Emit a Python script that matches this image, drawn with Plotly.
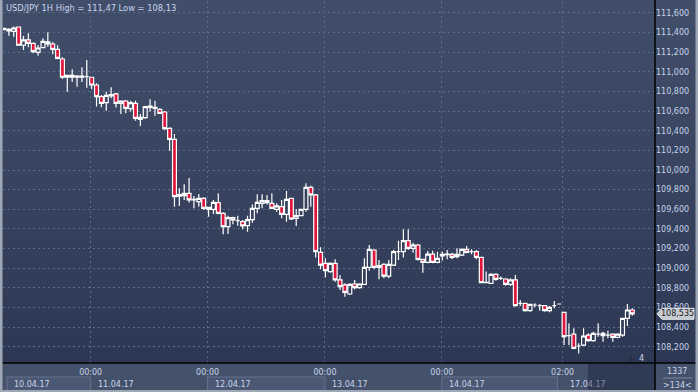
import plotly.graph_objects as go

# ---------------- data ----------------
opens = [111.430, 111.433, 111.413, 111.457, 111.271, 111.325, 111.291, 111.199, 111.247, 111.284,
         111.284, 111.230, 111.131, 110.945, 110.965, 110.945, 110.945, 110.951, 110.945, 110.866,
         110.747, 110.686, 110.754, 110.775, 110.680, 110.703, 110.625, 110.680, 110.517, 110.534,
         110.639, 110.629, 110.618, 110.591, 110.425, 110.313, 109.735, 109.739, 109.763, 109.695,
         109.678, 109.712, 109.620, 109.600, 109.668, 109.559, 109.423, 109.515, 109.484, 109.474,
         109.433, 109.494, 109.610, 109.661, 109.688, 109.661, 109.600, 109.627, 109.549, 109.712,
         109.508, 109.535, 109.600, 109.824, 109.746, 109.161, 109.049, 108.965, 109.049, 108.880,
         108.829, 108.737, 108.839, 108.802, 108.835, 109.009, 109.185, 109.009, 109.039, 108.920,
         109.032, 109.168, 109.168, 109.280, 109.202, 109.236, 109.090, 109.060, 109.144, 109.060,
         109.124, 109.138, 109.141, 109.117, 109.134, 109.192, 109.168, 109.168, 109.110, 108.852,
         108.846, 108.937, 108.897, 108.890, 108.835, 108.880, 108.642, 108.642, 108.567, 108.625,
         108.618, 108.618, 108.567, 108.618, 108.635, 108.550, 108.312, 108.329, 108.207, 108.217,
         108.319, 108.261, 108.329, 108.336, 108.319, 108.329, 108.295, 108.319, 108.489, 108.574]
highs = [111.446, 111.444, 111.461, 111.461, 111.366, 111.393, 111.298, 111.274, 111.342, 111.403,
         111.305, 111.271, 111.148, 110.968, 111.026, 110.968, 111.046, 111.121, 110.951, 110.883,
         110.765, 110.798, 110.843, 110.788, 110.706, 110.714, 110.707, 110.707, 110.571, 110.652,
         110.720, 110.707, 110.629, 110.601, 110.435, 110.367, 109.814, 109.854, 109.919, 109.735,
         109.756, 109.722, 109.627, 109.695, 109.763, 109.569, 109.535, 109.525, 109.535, 109.491,
         109.535, 109.650, 109.752, 109.752, 109.746, 109.763, 109.661, 109.695, 109.786, 109.718,
         109.603, 109.603, 109.865, 109.841, 109.756, 109.212, 109.100, 109.060, 109.090, 108.931,
         108.846, 108.846, 108.880, 108.846, 109.100, 109.236, 109.192, 109.083, 109.049, 109.083,
         109.185, 109.280, 109.396, 109.396, 109.260, 109.246, 109.090, 109.175, 109.178, 109.168,
         109.168, 109.185, 109.158, 109.202, 109.202, 109.226, 109.192, 109.185, 109.117, 108.965,
         108.948, 108.948, 108.914, 108.897, 108.897, 108.931, 108.676, 108.649, 108.632, 108.642,
         108.635, 108.625, 108.615, 108.666, 108.635, 108.550, 108.438, 108.387, 108.234, 108.387,
         108.336, 108.353, 108.438, 108.353, 108.363, 108.336, 108.336, 108.489, 108.635, 108.591]
lows = [111.428, 111.369, 111.359, 111.267, 111.223, 111.250, 111.189, 111.165, 111.240, 111.257,
        111.179, 111.128, 110.928, 110.798, 110.897, 110.849, 110.897, 110.839, 110.822, 110.646,
        110.639, 110.605, 110.731, 110.636, 110.571, 110.578, 110.595, 110.503, 110.449, 110.523,
        110.595, 110.554, 110.571, 110.408, 110.197, 109.627, 109.634, 109.695, 109.668, 109.610,
        109.627, 109.593, 109.525, 109.552, 109.549, 109.345, 109.348, 109.447, 109.433, 109.396,
        109.372, 109.464, 109.559, 109.610, 109.650, 109.603, 109.576, 109.508, 109.474, 109.491,
        109.430, 109.532, 109.576, 109.627, 109.110, 108.988, 108.907, 108.954, 108.863, 108.778,
        108.710, 108.727, 108.784, 108.791, 108.829, 108.975, 108.988, 108.886, 108.897, 108.897,
        109.022, 109.083, 109.110, 109.185, 109.158, 109.077, 108.954, 109.049, 109.049, 109.049,
        109.077, 109.090, 109.090, 109.100, 109.124, 109.151, 109.141, 109.090, 108.846, 108.846,
        108.839, 108.873, 108.880, 108.822, 108.818, 108.608, 108.615, 108.557, 108.557, 108.601,
        108.567, 108.557, 108.550, 108.591, 108.635, 108.217, 108.217, 108.173, 108.130, 108.207,
        108.251, 108.251, 108.302, 108.251, 108.285, 108.251, 108.285, 108.302, 108.411, 108.516]
closes = [111.444, 111.417, 111.447, 111.271, 111.325, 111.291, 111.206, 111.243, 111.311, 111.305,
          111.230, 111.138, 110.945, 110.965, 110.945, 110.958, 110.958, 110.951, 110.866, 110.747,
          110.680, 110.761, 110.768, 110.680, 110.703, 110.629, 110.686, 110.527, 110.537, 110.646,
          110.652, 110.639, 110.578, 110.421, 110.313, 109.729, 109.749, 109.763, 109.695, 109.702,
          109.712, 109.610, 109.600, 109.671, 109.559, 109.423, 109.515, 109.491, 109.484, 109.430,
          109.494, 109.610, 109.671, 109.688, 109.667, 109.610, 109.634, 109.549, 109.701, 109.501,
          109.535, 109.600, 109.824, 109.746, 109.168, 109.032, 108.975, 109.049, 108.880, 108.812,
          108.754, 108.835, 108.802, 108.839, 109.009, 109.192, 109.009, 109.026, 108.920, 109.039,
          109.168, 109.168, 109.280, 109.202, 109.236, 109.090, 109.060, 109.144, 109.060, 109.100,
          109.141, 109.144, 109.110, 109.141, 109.192, 109.161, 109.168, 109.110, 108.852, 108.855,
          108.937, 108.886, 108.897, 108.835, 108.880, 108.618, 108.642, 108.567, 108.632, 108.625,
          108.618, 108.567, 108.601, 108.618, 108.635, 108.302, 108.312, 108.183, 108.207, 108.309,
          108.261, 108.336, 108.329, 108.312, 108.319, 108.295, 108.329, 108.489, 108.574, 108.535]

title_text = "USD/JPY 1H High = 111,47 Low = 108,13"
last_price = 108.535
last_price_text = "108,535"

y_tick_vals = [108.2, 108.4, 108.6, 108.8, 109.0, 109.2, 109.4, 109.6, 109.8,
               110.0, 110.2, 110.4, 110.6, 110.8, 111.0, 111.2, 111.4, 111.6]
y_tick_text = ["108,200", "108,400", "108,600", "108,800", "109,000", "109,200", "109,400",
               "109,600", "109,800", "110,000", "110,200", "110,400", "110,600", "110,800",
               "111,000", "111,200", "111,400", "111,600"]

x_tick_pos = [17.8, 41.8, 65.9, 89.9, 114.7]          # bar index of each time grid line
x_tick_text = ["00:00", "00:00", "00:00", "00:00", "02:00"]

date_labels = ["10.04.17", "11.04.17", "12.04.17", "13.04.17", "14.04.17",
               "17.0<span style='color:#8691a6'>4.17</span>"]
date_boxed = [True, False, True, False, True, False]

bar_count_text = "1337"
visible_bars_text = ">134<"
marker_text = "4"

# ---------------- layout geometry (pixels) ----------------
W, H = 698, 392
ML, MR, MT, MB = 3, 43, 1, 29
PW, PH = W - ML - MR, H - MT - MB
X0, X1 = -0.205, 133.67
Y0, Y1 = 108.034, 111.722

def pxx(p):   # pixel x -> paper x
    return (p - ML) / PW

def pxy(p):   # pixel y -> paper y
    return (H - MB - p) / PH

def ix(i):    # bar index -> pixel x
    return ML + (i - X0) / (X1 - X0) * PW

TXT = "#c8d4ea"
FONT = "DejaVu Sans"

fig = go.Figure()
fig.add_trace(go.Candlestick(
    x=list(range(len(opens))), open=opens, high=highs, low=lows, close=closes,
    increasing=dict(line=dict(color="white", width=1.2), fillcolor="rgba(0,0,0,0)"),
    decreasing=dict(line=dict(color="white", width=1.2), fillcolor="#e0143c"),
    whiskerwidth=0, hoverinfo="skip", showlegend=False,
))

shapes = []
# vertical gradient background
top_c = (65, 78, 106)
bot_c = (45, 56, 84)
N = 48
for k in range(N):
    t = k / (N - 1)
    c = tuple(int(round(top_c[j] + (bot_c[j] - top_c[j]) * t)) for j in range(3))
    ya = k * (H - MB) / N
    yb = (k + 1) * (H - MB) / N + 0.6
    shapes.append(dict(type="rect", xref="paper", yref="paper", layer="below",
                       x0=pxx(0), x1=pxx(W), y0=pxy(yb), y1=pxy(ya),
                       fillcolor="rgb(%d,%d,%d)" % c, line=dict(width=0)))
# time axis band
shapes.append(dict(type="rect", xref="paper", yref="paper", layer="below",
                   x0=pxx(0), x1=pxx(W), y0=pxy(H), y1=pxy(H - MB),
                   fillcolor="#44516b", line=dict(width=0)))
# date boxes
for k, boxed in enumerate(date_boxed):
    if boxed:
        a = ix(x_tick_pos[k - 1]) if k > 0 else 7
        b = ix(x_tick_pos[k]) - (0 if k < 4 else 5)
        shapes.append(dict(type="rect", xref="paper", yref="paper", layer="below",
                           x0=pxx(max(a, 7)), x1=pxx(b), y0=pxy(391), y1=pxy(377),
                           fillcolor="#4b5873", line=dict(color="#66738d", width=1)))
# dark future zone in time axis
shapes.append(dict(type="rect", xref="paper", yref="paper", layer="below",
                   x0=pxx(588), x1=pxx(655), y0=pxy(391), y1=pxy(364),
                   fillcolor="#2f3a55", line=dict(width=0)))
# separators
shapes.append(dict(type="line", xref="paper", yref="paper", x0=pxx(655), x1=pxx(655),
                   y0=pxy(H), y1=pxy(0), line=dict(color="black", width=1.5)))
shapes.append(dict(type="line", xref="paper", yref="paper", x0=pxx(0), x1=pxx(W),
                   y0=pxy(363), y1=pxy(363), line=dict(color="black", width=1.5)))
# light frame (left, right, bottom)
for (a, b, c_, d) in [(0, 2.5, 0, H), (W - 2.5, W, 0, H), (0, W, H - 2, H)]:
    shapes.append(dict(type="rect", xref="paper", yref="paper", layer="above",
                       x0=pxx(a), x1=pxx(b), y0=pxy(d), y1=pxy(c_),
                       fillcolor="#9ea7b6", line=dict(width=0)))
# separator in the corner cell
shapes.append(dict(type="line", xref="paper", yref="paper", x0=pxx(663), x1=pxx(692),
                   y0=pxy(378), y1=pxy(378), line=dict(color="#7d889c", width=1)))
# last price arrow label
lp_y0 = last_price - 5.5 * (Y1 - Y0) / PH
lp_y1 = last_price + 5.5 * (Y1 - Y0) / PH
shapes.append(dict(type="path", xref="paper", yref="y", layer="above",
                   path="M %f,%f L %f,%f L %f,%f L %f,%f L %f,%f Z" % (
                       pxx(657), last_price, pxx(662), lp_y1, pxx(694), lp_y1,
                       pxx(694), lp_y0, pxx(662), lp_y0),
                   fillcolor="#c6cad1", line=dict(color="#e2e4e8", width=1)))
# small triangle near marker
shapes.append(dict(type="path", xref="paper", yref="paper", layer="above",
                   path="M %f,%f L %f,%f L %f,%f Z" % (pxx(628), pxy(361), pxx(634), pxy(361),
                                                       pxx(631), pxy(356)),
                   fillcolor="#252e43", line=dict(width=0)))

ann = []
ann.append(dict(text=title_text, xref="paper", yref="paper", x=pxx(4), y=pxy(8),
                xanchor="left", yanchor="middle", showarrow=False,
                font=dict(family=FONT, size=8.3, color=TXT)))
for k, lab in enumerate(date_labels):
    left = ix(x_tick_pos[k - 1]) if k > 0 else 7
    ann.append(dict(text=lab, xref="paper", yref="paper", x=pxx(left + 5), y=pxy(384),
                    xanchor="left", yanchor="middle", showarrow=False,
                    font=dict(family=FONT, size=8, color=TXT)))
ann.append(dict(text=last_price_text, xref="paper", yref="y", x=pxx(678), y=last_price,
                xanchor="center", yanchor="middle", showarrow=False,
                font=dict(family=FONT, size=8, color="#1c1c1c")))
ann.append(dict(text=bar_count_text, xref="paper", yref="paper", x=pxx(677), y=pxy(371),
                xanchor="center", yanchor="middle", showarrow=False,
                font=dict(family=FONT, size=8, color=TXT)))
ann.append(dict(text=visible_bars_text, xref="paper", yref="paper", x=pxx(677), y=pxy(385),
                xanchor="center", yanchor="middle", showarrow=False,
                font=dict(family=FONT, size=8, color=TXT)))
ann.append(dict(text=marker_text, xref="paper", yref="paper", x=pxx(637), y=pxy(358),
                xanchor="left", yanchor="middle", showarrow=False,
                font=dict(family=FONT, size=8, color=TXT)))

fig.update_layout(
    width=W, height=H, margin=dict(l=ML, r=MR, t=MT, b=MB, pad=0),
    paper_bgcolor="#2f3a55", plot_bgcolor="rgba(0,0,0,0)",
    shapes=shapes, annotations=ann, boxgap=0.2, boxgroupgap=0,
    showlegend=False, hovermode=False,
    xaxis=dict(range=[X0, X1], rangeslider=dict(visible=False), tickmode="array",
               tickvals=x_tick_pos, ticktext=x_tick_text, showgrid=True,
               gridcolor="#5d6b8a", griddash="2px,3px", gridwidth=1, zeroline=False,
               showline=False, ticks="", ticklabelstandoff=3,
               tickfont=dict(family=FONT, size=8, color=TXT)),
    yaxis=dict(range=[Y0, Y1], side="right", tickmode="array", tickvals=y_tick_vals,
               ticktext=y_tick_text, showgrid=True, gridcolor="#5d6b8a",
               griddash="2px,3px", gridwidth=1, zeroline=False, showline=False, ticks="",
               tickfont=dict(family=FONT, size=8, color=TXT)),
)

fig.write_html("out.html", config={"displayModeBar": False},
               post_script="document.body.style.margin='0px';document.body.style.overflow='hidden';")
